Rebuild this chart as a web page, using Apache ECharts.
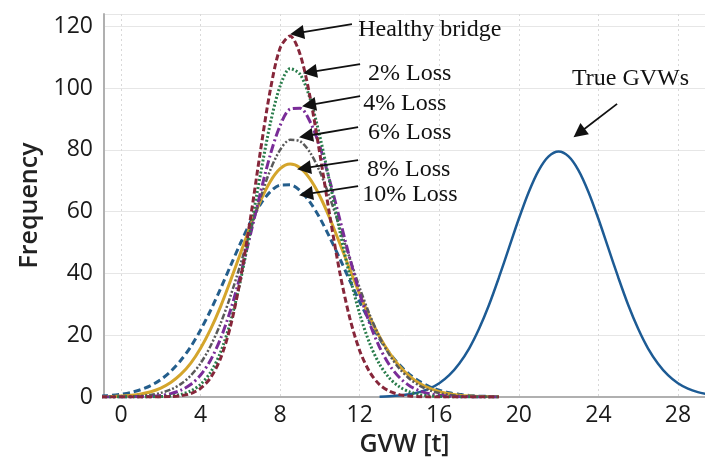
<!DOCTYPE html>
<html>
<head>
<meta charset="utf-8">
<script src="https://cdn.jsdelivr.net/npm/echarts@6/dist/echarts.min.js"></script>
<style>
html, body { margin: 0; background: #fff; }
#chart { width: 705px; height: 462px; }
</style>
</head>
<body>
<div id="chart"></div>
<script>
// GVW [t] sample positions for the weigh-in-motion curves
var gvwLoss = [-1, -0.5, 0, 0.5, 1, 1.5, 2, 2.5, 3, 3.5, 4, 4.5, 5, 5.5, 6, 6.5, 7, 7.5, 8, 8.5,
  9, 9.5, 10, 10.5, 11, 11.5, 12, 12.5, 13, 13.5, 14, 14.5, 15, 15.5, 16, 16.5, 17, 17.5, 18, 18.5, 19];
var gvwTrue = [13, 13.5, 14, 14.5, 15, 15.5, 16, 16.5, 17, 17.5, 18, 18.5, 19, 19.5, 20, 20.5, 21, 21.5,
  22, 22.5, 23, 23.5, 24, 24.5, 25, 25.5, 26, 26.5, 27, 27.5, 28, 28.5, 29, 29.5];

var healthy = [0, 0, 0, 0, 0, 0.01, 0.04, 0.14, 0.42, 1.1, 2.8, 6.2, 12.4, 22.8, 38.0, 57.5, 79.2, 99.2, 113.0, 116.9,
  111.0, 97.3, 78.6, 58.6, 40.3, 25.6, 15.0, 8.1, 4.0, 1.85, 0.78, 0.31, 0.11, 0.03, 0, 0, 0, 0, 0, 0, 0];
var loss2 = [0, 0, 0, 0, 0.01, 0.04, 0.13, 0.34, 0.84, 1.92, 4.07, 7.96, 14.4, 24.2, 37.5, 53.9, 71.7, 88.4, 100.7, 106.3,
  104.5, 96.7, 84.3, 69.3, 53.7, 39.2, 26.9, 17.4, 10.6, 6.1, 3.3, 1.69, 0.81, 0.37, 0.16, 0.06, 0.02, 0, 0, 0, 0];
var loss4 = [0, 0, 0.01, 0.04, 0.10, 0.23, 0.52, 1.09, 2.16, 4.03, 7.1, 11.9, 18.8, 28.0, 39.4, 52.4, 65.9, 78.3, 87.9, 93.2,
  93.5, 89.2, 81.0, 69.9, 57.5, 45.0, 33.5, 23.8, 16.1, 10.3, 6.3, 3.67, 2.03, 1.07, 0.54, 0.26, 0.12, 0.05, 0.02, 0, 0];
var loss6 = [0.01, 0.03, 0.08, 0.17, 0.35, 0.69, 1.32, 2.41, 4.17, 6.9, 10.9, 16.5, 23.7, 32.6, 42.8, 53.7, 64.2, 73.4, 80.0, 83.25,
  82.8, 79.2, 72.9, 64.5, 54.8, 44.9, 35.3, 26.7, 19.4, 13.6, 9.15, 5.92, 3.69, 2.21, 1.27, 0.70, 0.37, 0.19, 0.09, 0.04, 0.02];
var loss8 = [0.07, 0.15, 0.29, 0.54, 0.99, 1.72, 2.90, 4.69, 7.3, 10.9, 15.8, 21.9, 29.2, 37.6, 46.4, 55.3, 63.3, 69.7, 73.9, 75.4,
  74.2, 70.6, 65.0, 57.8, 49.7, 41.4, 33.3, 25.9, 19.5, 14.2, 9.98, 6.79, 4.47, 2.84, 1.75, 1.04, 0.60, 0.33, 0.18, 0.09, 0.05];
var loss10 = [0.29, 0.52, 0.89, 1.48, 2.39, 3.73, 5.66, 8.30, 11.8, 16.2, 21.7, 28.0, 35.0, 42.4, 49.7, 56.5, 62.3, 66.4, 68.6, 68.7,
  66.8, 63.1, 57.9, 51.6, 44.8, 37.7, 30.8, 24.5, 18.9, 14.2, 10.4, 7.35, 5.06, 3.39, 2.21, 1.39, 0.86, 0.51, 0.30, 0.17, 0.09];
var trueGvw = [0.12, 0.25, 0.48, 0.88, 1.58, 2.71, 4.46, 7.07, 10.8, 15.7, 22.1, 29.8, 38.7, 48.2, 57.7, 66.4, 73.4, 77.9,
  79.5, 77.9, 73.4, 66.4, 57.7, 48.2, 38.7, 29.8, 22.1, 15.7, 10.8, 7.07, 4.46, 2.71, 1.58, 0.88];

var xTicks = [0, 4, 8, 12, 16, 20, 24, 28];

// annotation labels and arrows (data coords)
var annoText = ['Healthy bridge', '2% Loss', '4% Loss', '6% Loss', '8% Loss', '10% Loss', 'True GVWs'];
var annoAt = [[11.92, 118.8], [12.42, 104.6], [12.17, 94.9], [12.42, 85.5], [12.37, 73.5], [12.12, 65.4], [22.67, 102.9]];
var arrowFrom = [[11.61, 120.7], [12.02, 107.8], [12.02, 97.4], [11.92, 87.4], [11.92, 76.7], [11.92, 68.3], [24.94, 94.9]];
var arrowTo = [[8.85, 117.8], [9.50, 105.2], [9.45, 94.5], [9.30, 84.5], [9.20, 74.1], [9.30, 65.7], [23.03, 85.5]];

function pairs(xs, ys) {
  return xs.map(function (x, i) { return [x, ys[i]]; });
}

function curve(name, xs, ys, color, dash, width) {
  return {
    name: name,
    type: 'line',
    data: pairs(xs, ys),
    showSymbol: false,
    smooth: 0.3,
    lineStyle: { color: color, type: dash, width: width },
    z: 3
  };
}

var chart = echarts.init(document.getElementById('chart'));

var option = {
  animation: false,
  backgroundColor: '#fff',
  grid: { left: 104, right: 0, top: 14, bottom: 65 },
  xAxis: {
    type: 'value',
    min: -0.855,
    max: 29.36,
    name: 'GVW [t]',
    nameLocation: 'middle',
    nameGap: 34,
    nameTextStyle: { fontFamily: 'Open Sans', fontSize: 25, fontWeight: 600, color: '#222' },
    axisLine: { onZero: false, lineStyle: { color: '#b0b0b0', width: 2 } },
    axisTick: { show: false, customValues: xTicks },
    splitLine: { show: true, lineStyle: { color: '#d9d9d9', type: [2, 3], width: 1 } },
    axisLabel: {
      customValues: xTicks,
      fontFamily: 'Open Sans', fontSize: 23, color: '#1a1a1a', margin: 7
    }
  },
  yAxis: {
    type: 'value',
    min: 0,
    max: 124,
    interval: 20,
    name: 'Frequency',
    nameLocation: 'middle',
    nameGap: 62,
    nameTextStyle: { fontFamily: 'Open Sans', fontSize: 25, fontWeight: 600, color: '#222' },
    axisLine: { show: true, onZero: false, lineStyle: { color: '#b0b0b0', width: 2 } },
    axisTick: { show: false },
    splitLine: { lineStyle: { color: '#e6e6e6', width: 1 } },
    axisLabel: {
      showMaxLabel: false,
      fontFamily: 'Open Sans', fontSize: 23, color: '#1a1a1a', margin: 11
    }
  },
  series: [
    {
      name: 'True GVWs',
      type: 'line',
      data: pairs(gvwTrue, trueGvw),
      showSymbol: false,
      smooth: 0.3,
      lineStyle: { color: '#1d5b94', width: 2.5 },
      z: 3
    },
    curve('10% Loss', gvwLoss, loss10, '#245e8c', [7, 4], 3),
    curve('8% Loss', gvwLoss, loss8, '#d4a52c', 'solid', 3),
    curve('6% Loss', gvwLoss, loss6, '#5a5a5a', [6, 2, 2, 2, 2, 2], 2.5),
    curve('4% Loss', gvwLoss, loss4, '#7a2c98', [9, 3, 2, 3], 3),
    curve('2% Loss', gvwLoss, loss2, '#2a7d4c', [2, 2], 3),
    curve('Healthy bridge', gvwLoss, healthy, '#86263a', [6, 3], 3),
    {
      name: 'notes',
      type: 'line',
      data: [],
      z: 5,
      markLine: {
        silent: true,
        symbol: ['none', 'triangle'],
        symbolSize: 14,
        label: { show: false },
        lineStyle: { color: '#111', type: 'solid', width: 1.8 },
        itemStyle: { color: '#111' },
        data: arrowFrom.map(function (p, i) {
          return [{ coord: p }, { coord: arrowTo[i] }];
        })
      },
      markPoint: {
        silent: true,
        symbol: 'circle',
        symbolSize: 0.1,
        itemStyle: { color: 'transparent' },
        label: {
          show: true,
          position: 'right',
          distance: 0,
          fontFamily: 'Liberation Serif',
          fontSize: 24,
          color: '#111'
        },
        data: annoAt.map(function (p, i) {
          return { coord: p, value: annoText[i], label: { formatter: annoText[i] } };
        })
      }
    }
  ]
};

chart.setOption(option);
</script>
</body>
</html>
